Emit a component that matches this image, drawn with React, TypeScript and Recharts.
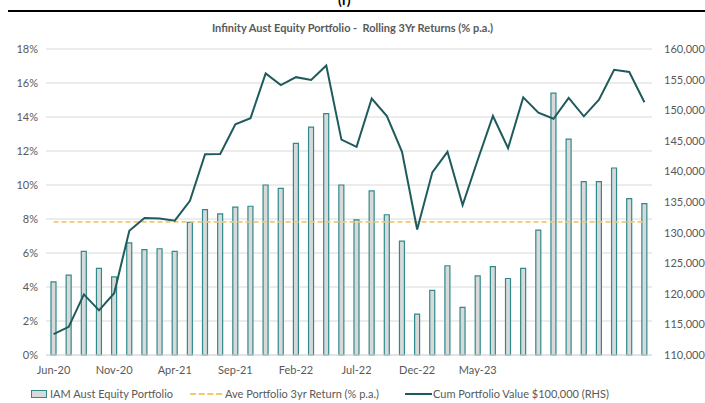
import React from 'react';
import { ComposedChart, Bar, Line, XAxis, YAxis, CartesianGrid } from 'recharts';

const categories = [
  'Jun-20', '', '', '', 'Nov-20', '', '', '', 'Apr-21', '', '', '', 'Sep-21', '', '', '',
  'Feb-22', '', '', '', 'Jul-22', '', '', '', 'Dec-22', '', '', '', 'May-23', '', '', '',
  '', '', '', '', '', '', '', '',
];

const rollingReturns = [
  4.3, 4.7, 6.1, 5.1, 4.6, 6.6, 6.2, 6.25, 6.1, 7.8,
  8.55, 8.3, 8.7, 8.75, 10.0, 9.8, 12.45, 13.4, 14.2, 10.0,
  7.95, 9.65, 8.25, 6.7, 2.4, 3.8, 5.25, 2.8, 4.65, 5.2,
  4.5, 5.1, 7.35, 15.4, 12.7, 10.2, 10.2, 11.0, 9.2, 8.9,
];

const cumValue = [
  113400, 114600, 119900, 117300, 120100, 130300, 132400, 132300, 131950, 135200,
  142800, 142850, 147700, 148700, 156000, 154100, 155400, 154950, 157300, 145200,
  144000, 151900, 149050, 143200, 130500, 139850, 143200, 134500, 141900, 149050,
  143800, 152100, 149600, 148600, 152000, 149000, 151700, 156600, 156250, 151300,
];

const avgReturn = 7.83;

const leftTicks = [0, 2, 4, 6, 8, 10, 12, 14, 16, 18];
const rightTicks = [110000, 115000, 120000, 125000, 130000, 135000, 140000, 145000, 150000, 155000, 160000];

const rows = categories.map((c, i) => ({
  cat: c,
  ret: rollingReturns[i],
  avg: avgReturn,
  cum: cumValue[i],
}));

const FONT = 'Lato, "Open Sans", sans-serif';
const TXT = '#595959';
const BAR_FILL = '#d9d9d9';
const BAR_STROKE = '#2e8a8c';
const LINE = '#1f5b5c';
const AVG = '#f4c96a';

export default function App() {
  return (
    <div style={{ position: 'absolute', left: 0, top: 0, width: 705, height: 403, background: '#fff', overflow: 'hidden', fontFamily: FONT }}>
      <div style={{ position: 'absolute', left: 338, top: -9, fontSize: 14, fontWeight: 700, color: '#000' }}>(f)</div>
      <div style={{ position: 'absolute', left: 8, top: 10, width: 697, height: 2, background: '#000' }} />
      <div style={{ position: 'absolute', left: 0, width: 705, top: 21, textAlign: 'center', fontSize: 11, fontWeight: 700, color: TXT, whiteSpace: 'pre' }}>
        {'Infinity Aust Equity Portfolio -  Rolling 3Yr Returns (% p.a.)'}
      </div>
      <ComposedChart
        width={705}
        height={403}
        data={rows}
        margin={{ top: 49, right: 0, bottom: 18, left: 0 }}
        barCategoryGap={0}
        style={{ position: 'absolute', left: 0, top: 0, fontFamily: FONT }}
      >
        <CartesianGrid yAxisId="left" vertical={false} stroke="#d9d9d9" strokeWidth={1.2} />
        <XAxis
          dataKey="cat"
          interval={0}
          tickLine={false}
          axisLine={{ stroke: '#d9d9d9', strokeWidth: 1.2 }}
          height={30}
          tickMargin={5}
          tick={{ fill: TXT, fontSize: 11 }}
          allowDuplicatedCategory={true}
        />
        <YAxis
          yAxisId="left"
          orientation="left"
          width={46}
          domain={[0, 18]}
          ticks={leftTicks}
          tickFormatter={(v: number) => `${v}%`}
          tickLine={false}
          axisLine={false}
          tick={{ fill: TXT, fontSize: 11 }}
        />
        <YAxis
          yAxisId="right"
          orientation="right"
          width={53}
          domain={[110000, 160000]}
          ticks={rightTicks}
          tickFormatter={(v: number) => v.toLocaleString('en-US')}
          tickLine={false}
          axisLine={false}
          tickMargin={6}
          tick={{ fill: TXT, fontSize: 11 }}
        />
        <Bar yAxisId="left" dataKey="ret" barSize={5} fill={BAR_FILL} stroke={BAR_STROKE} strokeWidth={1.2} isAnimationActive={false} />
        <Line yAxisId="left" dataKey="avg" stroke={AVG} strokeWidth={1.8} strokeDasharray="5 3" dot={false} isAnimationActive={false} />
        <Line yAxisId="right" dataKey="cum" stroke={LINE} strokeWidth={2} dot={false} isAnimationActive={false} />
      </ComposedChart>
      <div style={{ position: 'absolute', top: 387, left: 0, width: 705, height: 16, fontSize: 11, color: TXT }}>
        <div style={{ position: 'absolute', left: 31, top: 3, width: 14, height: 6, background: BAR_FILL, border: `1.2px solid ${BAR_STROKE}` }} />
        <div style={{ position: 'absolute', left: 50, top: 0, whiteSpace: 'nowrap' }}>IAM Aust Equity Portfolio</div>
        <div style={{ position: 'absolute', left: 190, top: 6, width: 32, height: 0, borderTop: `2px dashed ${AVG}` }} />
        <div style={{ position: 'absolute', left: 225, top: 0, whiteSpace: 'nowrap' }}>Ave Portfolio 3yr Return (% p.a.)</div>
        <div style={{ position: 'absolute', left: 405, top: 6, width: 27, height: 2, background: LINE }} />
        <div style={{ position: 'absolute', left: 433, top: 0, whiteSpace: 'nowrap' }}>Cum Portfolio Value $100,000 (RHS)</div>
      </div>
    </div>
  );
}
